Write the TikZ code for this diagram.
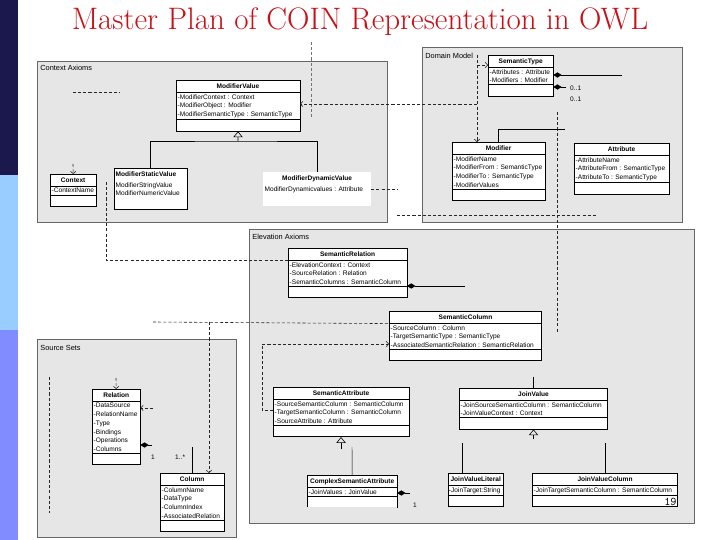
\documentclass[tikz,border=0pt]{standalone}
\usepackage{fontspec}
\setsansfont{Liberation Sans}
\usetikzlibrary{shapes.multipart,arrows.meta}
\definecolor{titlered}{RGB}{200,16,22}
\definecolor{barnavy}{RGB}{27,24,78}
\definecolor{barsky}{RGB}{153,204,255}
\definecolor{barlilac}{RGB}{128,140,255}
\definecolor{pkggray}{RGB}{230,230,230}
\newcommand*{\umlfont}{\fontsize{5.6}{7.4}\selectfont\sffamily}
\newcommand*{\px}[1]{#1*0.8504pt}
\newcommand*{\hd}[1]{\textbf{#1}\strut}

\begin{document}
\begin{tikzpicture}[x=0.03cm,y=-0.03cm]
\tikzstyle{classbox}=[rectangle split, rectangle split parts=3, draw=black, fill=white, line width=0.5pt, anchor=north west, inner xsep=1.2pt, inner ysep=1.3pt, align=left, rectangle split part align={center,left,left}, rectangle split empty part height=6.6pt, font=\umlfont]
\tikzstyle{plainbox}=[classbox, rectangle split draw splits=false]
\tikzstyle{pkgframe}=[draw=black!60, fill=pkggray, line width=0.6pt]
\tikzstyle{pkglabel}=[anchor=west, inner sep=1pt, font=\fontsize{6.3}{7}\selectfont\sffamily]
\tikzstyle{depline}=[black!85, line width=0.5pt, dash pattern=on 2.6pt off 1.8pt]
\tikzstyle{compline}=[line width=0.6pt, -{Diamond[length=7pt,width=4.5pt]}]
\tikzstyle{inhline}=[line width=0.5pt, -{Triangle[open,length=5pt,width=8pt]}]
\tikzstyle{barb}=[-{Straight Barb[length=2pt,width=4.5pt]}]
\tikzstyle{mult}=[anchor=west, inner sep=0pt, font=\umlfont]

\useasboundingbox (0,0) rectangle (720,540);
\fill[white] (0,0) rectangle (720,540);

% side bar
\fill[barnavy] (0,0) rectangle (18,175);
\fill[barsky] (0,175) rectangle (18,330);
\fill[barlilac] (0,330) rectangle (18,540);

\node[text=titlered, font=\fontsize{26.5}{30}\selectfont] (title) at (360,22) {Master Plan of COIN Representation in OWL};

% packages
\draw[pkgframe] (37,61) rectangle (387,222);
\draw[pkgframe] (422,47) rectangle (682,222);
\draw[pkgframe] (249,229) rectangle (694,523);
\draw[pkgframe] (37,339) rectangle (236,537);
\node[pkglabel] (ctxaxioms) at (39,68) {Context Axioms};
\node[pkglabel] (dommodel) at (424,56) {Domain Model};
\node[pkglabel] (elevaxioms) at (251,237) {Elevation Axioms};
\node[pkglabel] (srcsets) at (39,348) {Source Sets};

% context axioms
\node[classbox, minimum width=\px{124}] (modval) at (176,80)
  {\hd{ModifierValue} \nodepart{two} -ModifierContext : Context\\-ModifierObject : Modifier\\-ModifierSemanticType : SemanticType \nodepart{three}};
\node[plainbox, minimum width=\px{73}, rectangle split part align={left,left,left}] (modstat) at (114,168)
  {\hd{ModifierStaticValue} \nodepart{two} ModifierStringValue\\ModifierNumericValue \nodepart{three}};
\node[plainbox, draw=none, minimum width=\px{108}] (moddyn) at (263,172)
  {\hd{ModifierDynamicValue} \nodepart{two} ModifierDynamicvalues : Attribute \nodepart{three}};
\node[classbox, minimum width=\px{46}] (context) at (50,174)
  {\hd{Context} \nodepart{two} -ContextName \nodepart{three}};

% domain model
\node[classbox, minimum width=\px{65}] (semtype) at (488,55)
  {\hd{SemanticType} \nodepart{two} -Attributes : Attribute\\-Modifiers : Modifier \nodepart{three}};
\node[classbox, minimum width=\px{93}] (modifier) at (452,142)
  {\hd{Modifier} \nodepart{two} -ModifierName\\-ModifierFrom : SemanticType\\-ModifierTo : SemanticType\\-ModifierValues \nodepart{three}};
\node[classbox, minimum width=\px{95}] (attribute) at (574,143)
  {\hd{Attribute} \nodepart{two} -AttributeName\\-AttributeFrom : SemanticType\\-AttributeTo : SemanticType \nodepart{three}};

% elevation axioms
\node[classbox, minimum width=\px{119}] (semrel) at (288,248)
  {\hd{SemanticRelation} \nodepart{two} -ElevationContext : Context\\-SourceRelation : Relation\\-SemanticColumns : SemanticColumn \nodepart{three}};
\node[classbox, minimum width=\px{153}] (semcol) at (389,311)
  {\hd{SemanticColumn} \nodepart{two} -SourceColumn : Column\\-TargetSemanticType : SemanticType\\-AssociatedSemanticRelation : SemanticRelation \nodepart{three}};
\node[classbox, minimum width=\px{136}] (semattr) at (273,387)
  {\hd{SemanticAttribute} \nodepart{two} -SourceSemanticColumn : SemanticColumn\\-TargetSemanticColumn : SemanticColumn\\-SourceAttribute : Attribute \nodepart{three}};
\node[classbox, minimum width=\px{149}] (joinval) at (459,388)
  {\hd{JoinValue} \nodepart{two} -JoinSourceSemanticColumn : SemanticColumn\\-JoinValueContext : Context \nodepart{three}};
\node[classbox, minimum width=\px{90}] (cplxattr) at (307,475)
  {\hd{ComplexSemanticAttribute} \nodepart{two} -JoinValues : JoinValue \nodepart{three}};
\draw[pkggray, line width=1.4pt] (cplxattr.south west) -- (cplxattr.south east);
\node[classbox, minimum width=\px{55}, inner xsep=0.6pt] (jvlit) at (448,473)
  {\hd{JoinValueLiteral} \nodepart{two} -JoinTarget:String \nodepart{three}};
\node[classbox, minimum width=\px{146}] (jvcol) at (532,473)
  {\hd{JoinValueColumn} \nodepart{two} -JoinTargetSemanticColumn : SemanticColumn \nodepart{three}};

% source sets
\node[classbox, minimum width=\px{48}] (relation) at (92,389)
  {\hd{Relation} \nodepart{two} -DataSource\\-RelationName\\-Type\\-Bindings\\-Operations\\-Columns \nodepart{three}};
\node[classbox, minimum width=\px{64}] (column) at (160,473)
  {\hd{Column} \nodepart{two} -ColumnName\\-DataType\\-ColumnIndex\\-AssociatedRelation \nodepart{three}};

% inheritance
\coordinate (mvjoin) at (238,141);
\draw[inhline] (mvjoin) -- (modval.south);
\draw (modstat.north) |- (mvjoin) -| (moddyn.north);
\draw[inhline] (semattr.south) ++(0,12) -- (semattr.south);
\coordinate (cajoin) at (352,447);
\draw (cplxattr.north) -- (cajoin);
\draw[inhline] (joinval.south) ++(0,10) -- (joinval.south);
\coordinate (jltop) at (462,443);
\coordinate (jctop) at (605,443);
\draw (jltop) -- (jltop |- jvlit.north);
\draw (jctop) -- (jctop |- jvcol.north);
\coordinate (jvtop) at (533,377);
\draw (jvtop) -- (jvtop |- joinval.north);

% compositions
\coordinate (stA) at (622,75);
\coordinate (stB) at (566,87);
\draw[compline] (stA) -- (semtype.east |- stA);
\draw[compline] (stB) -- (semtype.east |- stB);
\node[mult] (stm1) at (570,88) {0..1};
\node[mult] (stm2) at (570,99) {0..1};
\coordinate (srA) at (465,286);
\draw[compline] (srA) -- (semrel.east |- srA);
\coordinate (caA) at (410,493);
\draw[compline] (caA) -- (cplxattr.east |- caA);
\node[mult] (cam) at (413,505) {1};
\coordinate (relA) at (152,445);
\draw[compline] (relA) -- (relation.east |- relA);
\node[mult] (relm1) at (151,457) {1};
\node[mult] (relm2) at (175,457) {1..*};
\coordinate (colA) at (192,447);
\draw (colA) -- (colA |- column.north);
\coordinate (modA) at (498,129);
\coordinate (modB) at (565,129);
\draw (modA |- modifier.north) -- (modA) -- (modB);

% dependencies
\coordinate (topA) at (311,42);
\coordinate (topB) at (311,117);
\draw[depline, black!55] (topA) -- (topB);
\coordinate (mvR) at (477,104);
\draw[depline, barb] (mvR) -- (modval.east |- mvR);
\coordinate (dmA) at (477,55);
\draw[depline, barb] (dmA) -- (dmA |- modifier.north);
\coordinate (dmB) at (477,65);
\draw[depline, barb] (dmB) -- (semtype.west |- dmB);
\coordinate (mdR) at (397,190);
\draw[depline] (moddyn.east) -- (mdR |- moddyn.east);
\coordinate (flA) at (73,92);
\coordinate (flB) at (120,92);
\draw[depline] (flA) -- (flB);
\coordinate (cxA) at (73,164);
\draw[depline, barb] (cxA) -- (context.north);
\coordinate (cxB) at (106,182);
\draw[depline] (cxB) |- (semrel.text split west);
\coordinate (ssA) at (153,322);
\draw[depline] (ssA) -- (semcol.text split west);
\coordinate (ssB) at (209,322);
\draw[depline, barb] (ssB) -- (ssB |- column.north);
\coordinate (saL) at (262,410);
\coordinate (scLow) at (262,344);
\draw[depline, barb] (semattr.west |- saL) -- (saL) -- (scLow) -- (semcol.west |- scLow);
\coordinate (vA) at (557,112);
\coordinate (vB) at (557,333);
\draw[depline] (vA) -- (vB);
\coordinate (hA) at (397,215);
\coordinate (hB) at (598,215);
\draw[depline] (hA) -- (hB);
\coordinate (rlA) at (116,378);
\draw[depline, barb] (rlA) -- (relation.north);
\coordinate (rlB) at (153,408);
\draw[depline, barb] (rlB) -- (relation.east |- rlB);
\coordinate (ssC) at (49,377);
\coordinate (ssD) at (49,513);
\draw[depline] (ssC) -- (ssD);

\node[anchor=south east, inner sep=1pt, font=\fontsize{10}{10}\selectfont\ttfamily] (pagenum) at (jvcol.south east) {19};
\end{tikzpicture}
\end{document}
